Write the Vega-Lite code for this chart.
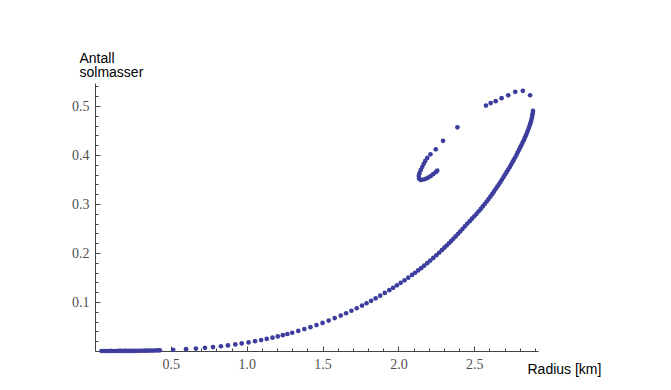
{
  "$schema": "https://vega.github.io/schema/vega-lite/v6.json",
  "width": 443,
  "height": 268,
  "autosize": {"type": "none"},
  "padding": {"left": 95, "top": 83, "right": 133, "bottom": 39},
  "background": "white",
  "config": {"view": {"stroke": null}},
  "data": {"values": [
    {"R":0.043,"M":0},{"R":0.059,"M":0},{"R":0.075,"M":0},{"R":0.091,"M":0},{"R":0.107,"M":0},{"R":0.123,"M":0},{"R":0.139,"M":0},{"R":0.155,"M":0.0001},{"R":0.171,"M":0.0001},{"R":0.187,"M":0.0001},{"R":0.203,"M":0.0001},{"R":0.219,"M":0.0002},{"R":0.235,"M":0.0002},{"R":0.251,"M":0.0003},{"R":0.267,"M":0.0003},{"R":0.283,"M":0.0004},{"R":0.299,"M":0.0005},{"R":0.315,"M":0.0005},{"R":0.331,"M":0.0006},{"R":0.347,"M":0.0007},{"R":0.363,"M":0.0008},{"R":0.379,"M":0.0009},{"R":0.395,"M":0.001},{"R":0.411,"M":0.0012},{"R":0.427,"M":0.0013},
    {"R":0.515,"M":0.0023},{"R":0.6,"M":0.0037},{"R":0.665,"M":0.005},{"R":0.725,"M":0.0065},{"R":0.778,"M":0.008},{"R":0.83,"M":0.0097},{"R":0.876,"M":0.0114},{"R":0.925,"M":0.0134},{"R":0.967,"M":0.0154},{"R":1.012,"M":0.0176},{"R":1.055,"M":0.02},{"R":1.095,"M":0.0223},{"R":1.132,"M":0.0247},{"R":1.17,"M":0.0272},{"R":1.205,"M":0.0297},{"R":1.238,"M":0.0323},{"R":1.268,"M":0.0347},
    {"R":1.3,"M":0.0373},{"R":1.34,"M":0.0409},{"R":1.38,"M":0.0447},{"R":1.42,"M":0.0487},{"R":1.46,"M":0.0529},{"R":1.5,"M":0.0574},{"R":1.54,"M":0.0621},{"R":1.58,"M":0.0671},{"R":1.62,"M":0.0723},{"R":1.655,"M":0.0771},{"R":1.69,"M":0.0821},{"R":1.725,"M":0.0873},{"R":1.76,"M":0.0927},{"R":1.79,"M":0.0975},{"R":1.82,"M":0.1025},{"R":1.85,"M":0.1076},{"R":1.88,"M":0.113},{"R":1.91,"M":0.1185},{"R":1.94,"M":0.1241},{"R":1.965,"M":0.129},{"R":1.99,"M":0.134},
    {"R":2.015,"M":0.1391},{"R":2.04,"M":0.1443},{"R":2.065,"M":0.1497},{"R":2.09,"M":0.1552},{"R":2.11,"M":0.1597},{"R":2.13,"M":0.1644},{"R":2.15,"M":0.169},{"R":2.17,"M":0.1742},{"R":2.19,"M":0.1793},{"R":2.21,"M":0.1845},{"R":2.23,"M":0.1899},{"R":2.25,"M":0.1954},{"R":2.268,"M":0.2005},{"R":2.286,"M":0.2057},
    {"R":2.303,"M":0.2108},{"R":2.318,"M":0.2153},{"R":2.333,"M":0.2199},{"R":2.347,"M":0.2243},{"R":2.362,"M":0.229},{"R":2.377,"M":0.2339},{"R":2.392,"M":0.2388},{"R":2.407,"M":0.2438},{"R":2.422,"M":0.2489},{"R":2.438,"M":0.2544},{"R":2.454,"M":0.26},{"R":2.47,"M":0.265},{"R":2.485,"M":0.27},{"R":2.5,"M":0.275},{"R":2.515,"M":0.28},{"R":2.529,"M":0.285},{"R":2.543,"M":0.29},{"R":2.556,"M":0.295},{"R":2.569,"M":0.3},{"R":2.582,"M":0.305},{"R":2.594,"M":0.31},{"R":2.606,"M":0.315},{"R":2.618,"M":0.32},{"R":2.629,"M":0.325},{"R":2.64,"M":0.33},{"R":2.651,"M":0.335},{"R":2.662,"M":0.34},{"R":2.673,"M":0.345},{"R":2.683,"M":0.35},{"R":2.693,"M":0.355},{"R":2.703,"M":0.36},{"R":2.713,"M":0.365},{"R":2.723,"M":0.37},{"R":2.733,"M":0.375},{"R":2.742,"M":0.38},{"R":2.751,"M":0.385},{"R":2.76,"M":0.39},{"R":2.769,"M":0.395},{"R":2.778,"M":0.4},{"R":2.786,"M":0.405},{"R":2.794,"M":0.41},{"R":2.802,"M":0.415},{"R":2.81,"M":0.42},{"R":2.818,"M":0.425},{"R":2.826,"M":0.43},{"R":2.833,"M":0.435},{"R":2.84,"M":0.44},{"R":2.847,"M":0.445},{"R":2.853,"M":0.45},{"R":2.859,"M":0.455},{"R":2.865,"M":0.46},{"R":2.87,"M":0.465},{"R":2.875,"M":0.47},{"R":2.879,"M":0.475},{"R":2.882,"M":0.48},{"R":2.885,"M":0.485},{"R":2.887,"M":0.49},
    {"R":2.868,"M":0.522},{"R":2.82,"M":0.531},{"R":2.77,"M":0.529},{"R":2.724,"M":0.522},{"R":2.68,"M":0.516},{"R":2.641,"M":0.51},{"R":2.608,"M":0.506},{"R":2.577,"M":0.501},
    {"R":2.389,"M":0.4565},{"R":2.294,"M":0.429},{"R":2.246,"M":0.4116},{"R":2.211,"M":0.4014},{"R":2.19,"M":0.394},{"R":2.177,"M":0.388},{"R":2.167,"M":0.382},{"R":2.157,"M":0.3755},{"R":2.147,"M":0.3694},{"R":2.139,"M":0.363},{"R":2.134,"M":0.357},{"R":2.136,"M":0.352},{"R":2.147,"M":0.349},{"R":2.163,"M":0.35},{"R":2.18,"M":0.3514},{"R":2.196,"M":0.354},{"R":2.213,"M":0.357},{"R":2.229,"M":0.361},{"R":2.246,"M":0.365},{"R":2.256,"M":0.368}
  ]},
  "resolve": {"axis": {"x": "independent", "y": "independent"}},
  "layer": [
    {
      "mark": {"type": "circle", "size": 22, "color": "#3d3d9e", "opacity": 0},
      "encoding": {
        "x": {
          "field": "R", "type": "quantitative",
          "scale": {"domain": [0, 2.92], "nice": false, "zero": false},
          "axis": {
            "orient": "top", "offset": -268,
            "values": [0.1,0.2,0.3,0.4,0.5,0.6,0.7,0.8,0.9,1.0,1.1,1.2,1.3,1.4,1.5,1.6,1.7,1.8,1.9,2.0,2.1,2.2,2.3,2.4,2.5,2.6,2.7,2.8,2.9],
            "labels": false, "domain": false, "grid": false, "title": null,
            "ticks": true,
            "tickSize": {"condition": {"test": "abs(datum.value*2 - round(datum.value*2)) < 0.001", "value": 5}, "value": 3},
            "tickColor": "#444", "tickWidth": 1
          }
        },
        "y": {
          "field": "M", "type": "quantitative",
          "scale": {"domain": [0, 0.547], "nice": false, "zero": false},
          "axis": {
            "orient": "right", "offset": -443,
            "values": [0.02,0.04,0.06,0.08,0.1,0.12,0.14,0.16,0.18,0.2,0.22,0.24,0.26,0.28,0.3,0.32,0.34,0.36,0.38,0.4,0.42,0.44,0.46,0.48,0.5,0.52,0.54],
            "labels": false, "domain": false, "grid": false, "title": null,
            "ticks": true,
            "tickSize": {"condition": {"test": "abs(datum.value*10 - round(datum.value*10)) < 0.001", "value": 5}, "value": 3},
            "tickColor": "#444", "tickWidth": 1
          }
        }
      }
    },
    {
      "mark": {"type": "circle", "size": 22, "color": "#3d3d9e", "opacity": 1},
      "encoding": {
        "x": {
          "field": "R", "type": "quantitative",
          "axis": {
            "orient": "bottom",
            "values": [0.5,1.0,1.5,2.0,2.5],
            "format": ".1f",
            "ticks": false,
            "grid": false,
            "domainColor": "#444", "domainWidth": 1,
            "labelFont": "Liberation Serif", "labelFontSize": 14, "labelColor": "#505050", "labelPadding": 6,
            "labelOverlap": false, "labelFlush": false,
            "title": "Radius [km]",
            "titleFont": "Liberation Sans", "titleFontSize": 14, "titleFontWeight": "normal", "titleColor": "#000",
            "titleX": 432, "titleY": 22, "titleAlign": "left", "titleBaseline": "alphabetic"
          }
        },
        "y": {
          "field": "M", "type": "quantitative",
          "axis": {
            "orient": "left",
            "values": [0.1,0.2,0.3,0.4,0.5],
            "format": ".1f",
            "ticks": false,
            "grid": false,
            "domainColor": "#444", "domainWidth": 1,
            "labelFont": "Liberation Serif", "labelFontSize": 14, "labelColor": "#505050", "labelPadding": 6,
            "labelOverlap": false, "labelFlush": false,
            "title": ["Antall", "solmasser"],
            "titleFont": "Liberation Sans", "titleFontSize": 14, "titleFontWeight": "normal", "titleColor": "#000",
            "titleAngle": 0, "titleX": -16, "titleY": -21, "titleAlign": "left", "titleBaseline": "alphabetic", "titleLineHeight": 14.5
          }
        }
      }
    }
  ]
}
